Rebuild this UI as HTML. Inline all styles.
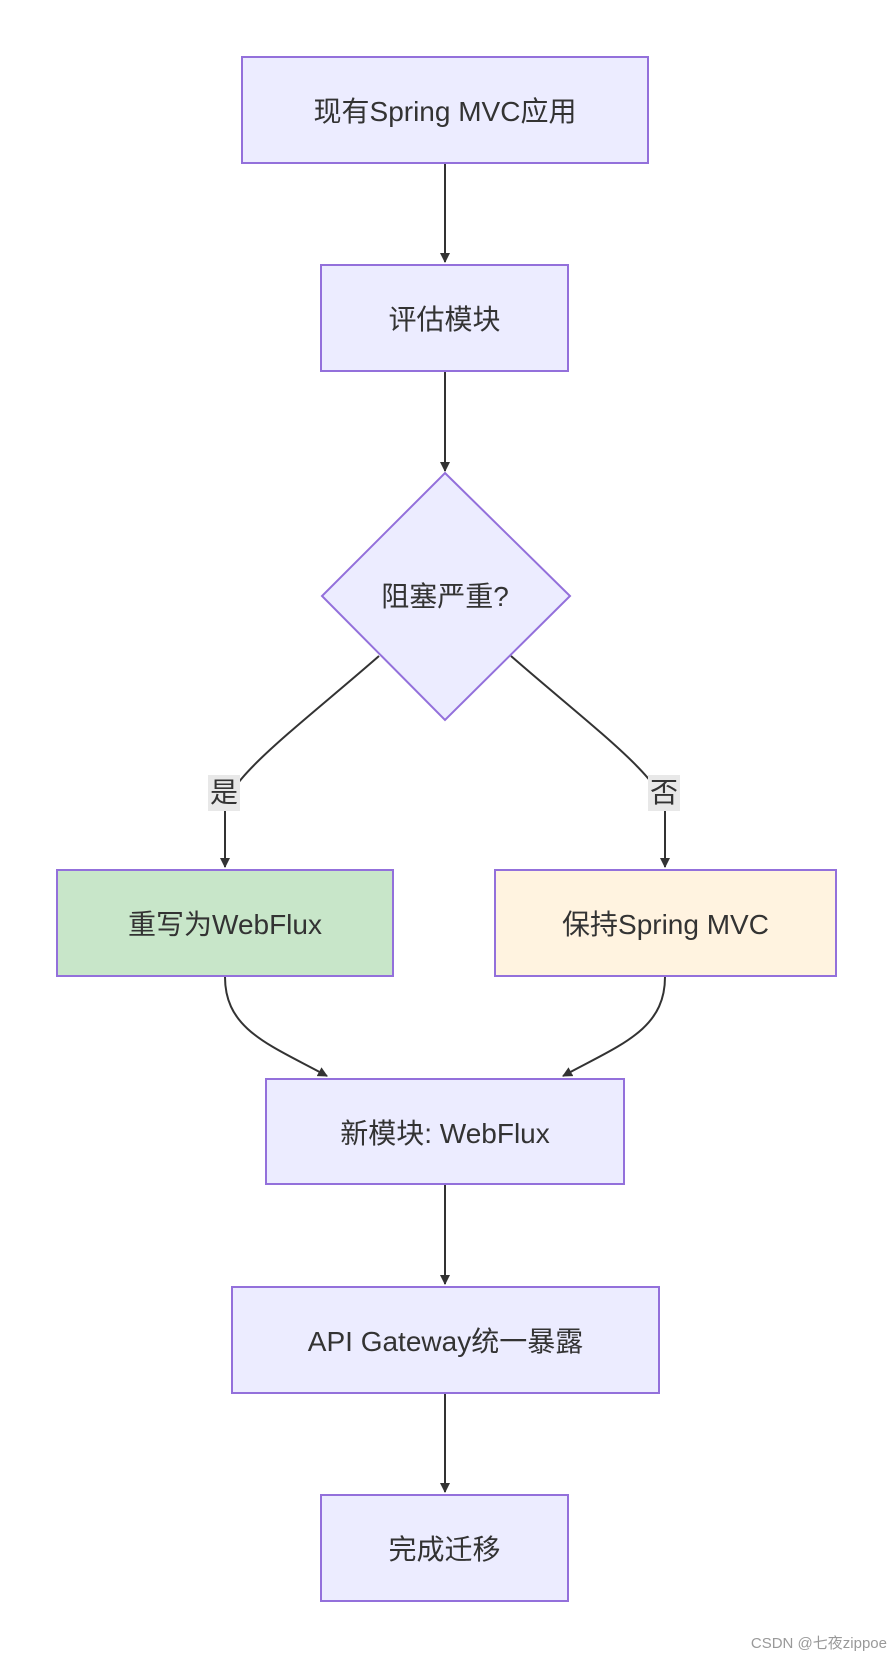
<!DOCTYPE html>
<html><head><meta charset="utf-8"><style>
html,body{margin:0;padding:0;background:#fff;}
body{width:891px;height:1655px;position:relative;overflow:hidden;font-family:"Liberation Sans","Noto Sans CJK SC",sans-serif;}
.b{position:absolute;box-sizing:border-box;border:2px solid #9370db;background:#ececff;color:#333;font-size:28px;display:flex;align-items:center;justify-content:center;}
.l{position:absolute;background:#e8e8e8;color:#333;font-size:28px;line-height:36px;padding:0 2px;}
</style></head><body>
<svg width="891" height="1655" style="position:absolute;left:0;top:0">
<defs><marker id="a" markerWidth="10" markerHeight="10" refX="9" refY="5" orient="auto" markerUnits="userSpaceOnUse"><path d="M0,0L10,5L0,10z" fill="#333"/></marker></defs>
<g stroke="#333" stroke-width="2" fill="none">
<path d="M445,164V262" marker-end="url(#a)"/>
<path d="M445,372V471" marker-end="url(#a)"/>
<path d="M379,656C300,725 225,780 225,810V867" marker-end="url(#a)"/>
<path d="M511,656C590,725 665,780 665,810V867" marker-end="url(#a)"/>
<path d="M225,977C225,1030 270,1045 327,1076" marker-end="url(#a)"/>
<path d="M665,977C665,1030 620,1045 563,1076" marker-end="url(#a)"/>
<path d="M445,1185V1284" marker-end="url(#a)"/>
<path d="M445,1394V1492" marker-end="url(#a)"/>
</g>
<polygon points="445,473 570,596 445,720 322,596" fill="#ececff" stroke="#9370db" stroke-width="2"/>
<text x="445" y="606" text-anchor="middle" font-size="28" fill="#333" font-family="Liberation Sans,Noto Sans CJK SC,sans-serif">阻塞严重?</text>
</svg>
<div class="b" style="left:241px;top:56px;width:408px;height:108px">现有Spring MVC应用</div>
<div class="b" style="left:320px;top:264px;width:249px;height:108px">评估模块</div>
<div class="l" style="left:208px;top:775px">是</div>
<div class="l" style="left:648px;top:775px">否</div>
<div class="b" style="left:56px;top:869px;width:338px;height:108px;background:#c8e6c9">重写为WebFlux</div>
<div class="b" style="left:494px;top:869px;width:343px;height:108px;background:#fff3e0">保持Spring MVC</div>
<div class="b" style="left:265px;top:1078px;width:360px;height:107px">新模块: WebFlux</div>
<div class="b" style="left:231px;top:1286px;width:429px;height:108px">API Gateway统一暴露</div>
<div class="b" style="left:320px;top:1494px;width:249px;height:108px">完成迁移</div>
<div style="position:absolute;right:4px;top:1632px;font-size:15px;color:#999">CSDN @七夜zippoe</div>
</body></html>
